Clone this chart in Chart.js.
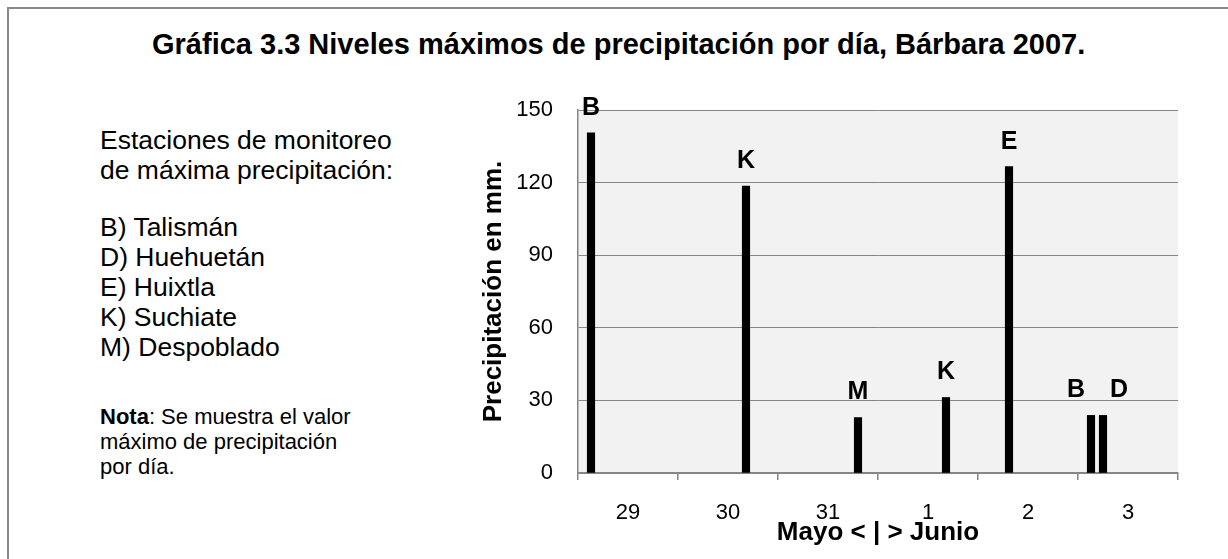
<!DOCTYPE html>
<html>
<head>
<meta charset="utf-8">
<script src="https://cdn.jsdelivr.net/npm/chart.js@4/dist/chart.umd.min.js"></script>
<style>
  body { margin: 0; background: #fff; font-family: 'Liberation Sans', Arial, sans-serif; color: #000; }
  #wrap { position: relative; width: 1228px; height: 559px; overflow: hidden; }
  #frame { position: absolute; left: 7px; top: 7px; width: 1240px; height: 580px; border-left: 2px solid #8a8a8a; border-top: 2px solid #8a8a8a; }
  #title { position: absolute; left: 152px; top: 28px; font-weight: bold; font-size: 29px; line-height: 32px; white-space: nowrap; }
  .side { position: absolute; left: 100px; white-space: nowrap; }
  #intro, #list { font-size: 26.5px; line-height: 30px; }
  #intro { top: 125px; }
  #list { top: 212px; }
  #note { top: 404px; font-size: 22px; line-height: 25px; }
  canvas { position: absolute; left: 0; top: 0; }
</style>
</head>
<body>
<div id="wrap">
  <div id="frame"></div>
  <div id="title">Gráfica 3.3 Niveles máximos de precipitación por día, Bárbara 2007.</div>
  <div id="intro" class="side">Estaciones de monitoreo<br>de máxima precipitación:</div>
  <div id="list" class="side">B) Talismán<br>D) Huehuetán<br>E) Huixtla<br>K) Suchiate<br>M) Despoblado</div>
  <div id="note" class="side"><b>Nota</b>: Se muestra el valor<br>máximo de precipitación<br>por día.</div>
  <canvas id="chart" width="1228" height="559"></canvas>
</div>
<script>
// days on the axis, May 29 to June 3
const dayLabels = ['29', '30', '31', '1', '2', '3'];
// station of each peak and where it falls (days from the start of May 29)
const stations = ['B', 'K', 'M', 'K', 'E', 'B', 'D'];
const eventDay = [0.13, 1.68, 2.8, 3.68, 4.31, 5.13, 5.25];
const maxRain = [140.6, 118.6, 22.9, 31.2, 126.6, 23.8, 23.8];

const axisGray = '#868686';

const plotBg = {
  id: 'plotBg',
  beforeDraw(chart) {
    const { ctx, chartArea: a } = chart;
    ctx.save();
    ctx.fillStyle = '#f2f2f2';
    ctx.fillRect(a.left, a.top, a.right - a.left, a.bottom - a.top);
    ctx.restore();
  }
};

const letters = {
  id: 'letters',
  afterDatasetsDraw(chart) {
    const { ctx } = chart;
    const bars = chart.getDatasetMeta(0).data;
    ctx.save();
    ctx.font = 'bold 25px "Liberation Sans", Arial, sans-serif';
    ctx.fillStyle = '#000';
    ctx.textAlign = 'center';
    ctx.textBaseline = 'middle';
    bars.forEach((b, i) => {
      let dx = 0;
      // push labels of bars that stand close together apart
      if (bars[i + 1] && bars[i + 1].x - b.x < 20) dx = -15;
      if (bars[i - 1] && b.x - bars[i - 1].x < 20) dx = 16;
      ctx.fillText(stations[i], b.x + dx, b.y - 25);
    });
    ctx.restore();
  }
};

Chart.defaults.font.family = '"Liberation Sans", Arial, sans-serif';
Chart.defaults.color = '#000';

new Chart(document.getElementById('chart'), {
  type: 'bar',
  data: {
    datasets: [{
      data: eventDay.map((d, i) => ({ x: d, y: maxRain[i] })),
      backgroundColor: '#000',
      barThickness: 7.5
    }]
  },
  options: {
    responsive: false,
    animation: false,
    layout: { padding: { left: 474, right: 50, top: 110, bottom: 7 } },
    plugins: { legend: { display: false }, tooltip: { enabled: false } },
    scales: {
      x: {
        type: 'linear',
        min: 0,
        max: 6,
        offset: false,
        afterFit(s) { s.height = 79; },
        grid: { offset: false, drawOnChartArea: false, drawTicks: true, tickLength: 7, color: axisGray, lineWidth: 1.5 },
        border: { color: axisGray, width: 1.5 },
        ticks: {
          stepSize: 1,
          padding: 20,
          labelOffset: 50,
          maxRotation: 0,
          font: { size: 22 },
          callback: v => dayLabels[v] ?? ''
        },
        title: { display: true, text: 'Mayo < | > Junio', font: { size: 26, weight: 'bold' }, padding: { top: 0, bottom: 4 } }
      },
      y: {
        min: 0,
        max: 150,
        afterFit(s) { s.width = 104; },
        grid: { color: axisGray, lineWidth: 1, drawTicks: false },
        border: { color: axisGray, width: 1.5 },
        ticks: { stepSize: 30, padding: 25, font: { size: 22 } },
        title: { display: true, text: 'Precipitación en mm.', font: { size: 26, weight: 'bold' }, padding: { top: 4, bottom: 4 } }
      }
    }
  },
  plugins: [plotBg, letters]
});
</script>
</body>
</html>
